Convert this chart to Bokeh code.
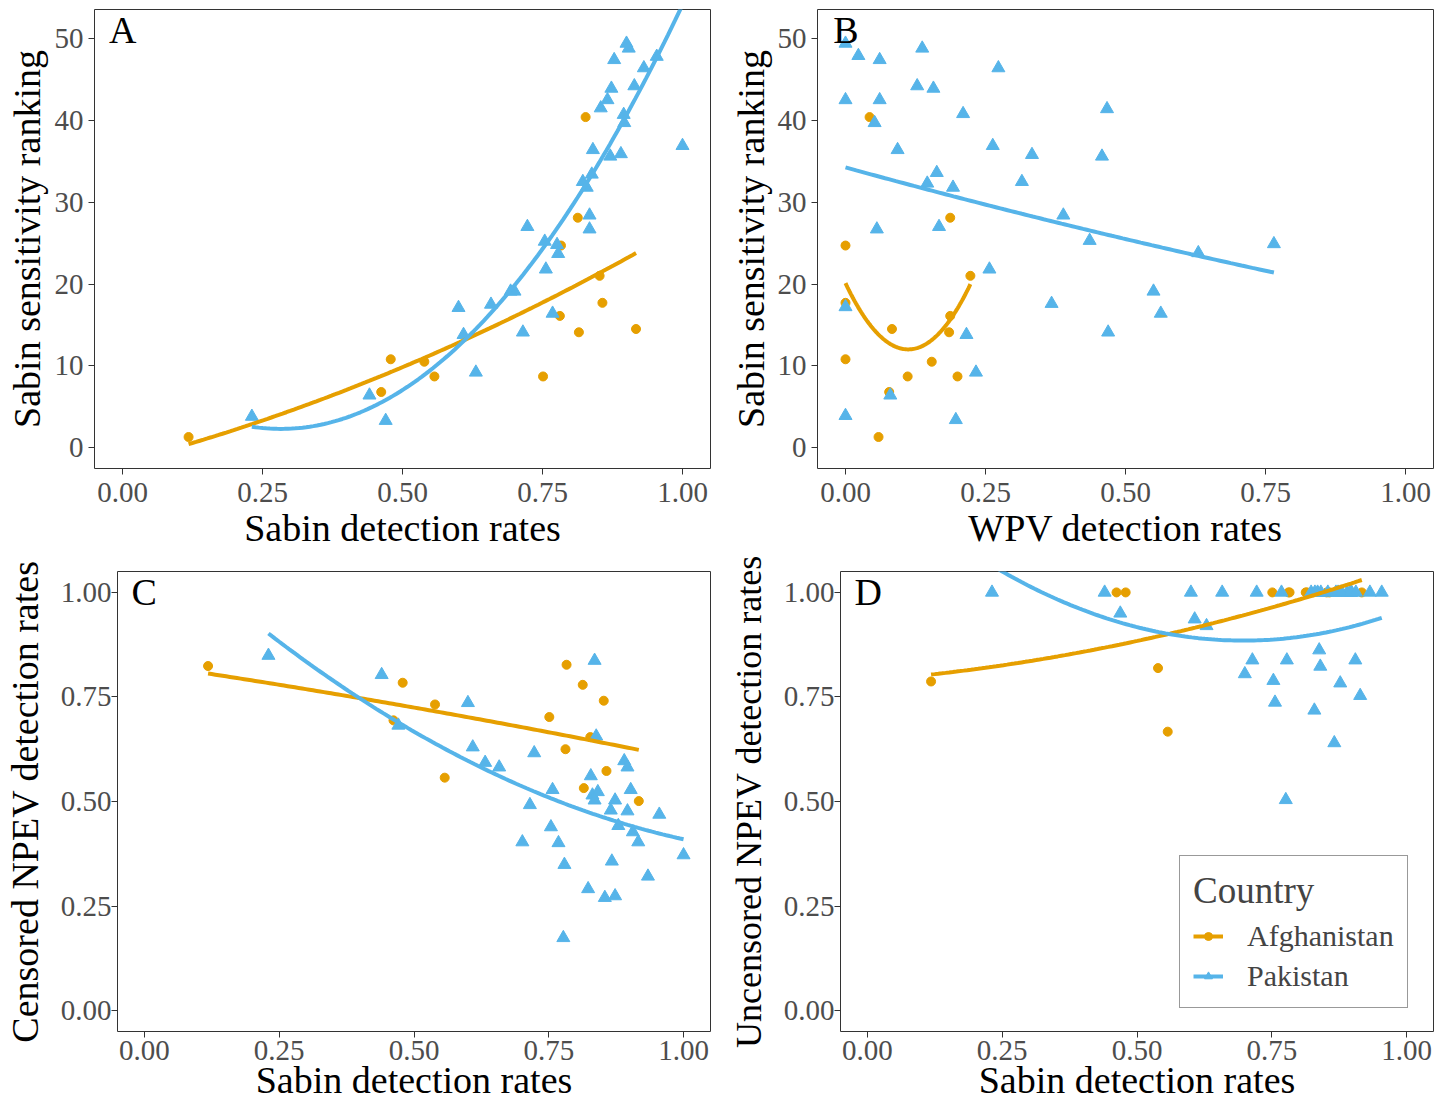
import numpy as np
from bokeh.plotting import figure
from bokeh.models import Range1d, FixedTicker, NumeralTickFormatter, Label, Legend, LegendItem
from bokeh.layouts import column, row
from bokeh.embed import file_html
from bokeh.resources import INLINE

ORANGE = "#E69F00"
BLUE = "#56B4E9"
FONT = "Liberation Serif"

# ---------------- data ----------------
# Afghanistan sites (shared across panels)
afg_sabin = [0.118, 0.479, 0.462, 0.539, 0.557, 0.827, 0.813, 0.783, 0.852, 0.857, 0.781, 0.815, 0.917, 0.751]
afg_rank = [1.3, 10.8, 6.8, 10.5, 8.7, 40.4, 28.1, 24.7, 21.0, 17.7, 16.1, 14.1, 14.5, 8.7]
afg_wpv = [0.059, 0.0, 0.078, 0.154, 0.111, 0.043, 0.187, 0.0, 0.223, 0.0, 0.187, 0.185, 0.083, 0.200]
afg_censored = [0.824, 0.784, 0.694, 0.732, 0.557, 0.654, 0.779, 0.827, 0.741, 0.573, 0.625, 0.532, 0.501, 0.702]
afg_uncensored = [0.787, 1.0, 1.0, 0.819, 0.667, 1.0, 1.0, 1.0, 1.0, 1.0, 1.0, 1.0, 1.0, 1.0]

# Pakistan, panel A: Sabin detection rate vs Sabin sensitivity ranking
pak_a_sabin = [0.231, 0.441, 0.470, 0.600, 0.609, 0.631, 0.658, 0.693, 0.700, 0.723, 0.754, 0.756,
               0.715, 0.768, 0.776, 0.778, 0.822, 0.829, 0.838, 0.834, 0.834, 0.840, 0.854, 0.866,
               0.873, 0.878, 0.871, 0.890, 0.896, 0.895, 0.900, 0.904, 0.914, 0.931, 0.954, 1.000]
pak_a_rank = [3.8, 6.4, 3.3, 17.1, 13.8, 9.2, 17.5, 19.1, 19.1, 27.0, 25.2, 21.8,
              14.1, 16.4, 24.8, 23.7, 32.5, 31.8, 33.4, 28.4, 26.7, 36.4, 41.5, 42.5,
              43.9, 47.4, 35.6, 35.9, 39.7, 40.7, 49.4, 48.8, 44.2, 46.4, 47.8, 36.9]

# Pakistan, panel B: WPV detection rate vs Sabin sensitivity ranking
pak_b_wpv = [0.000, 0.023, 0.061, 0.137, 0.273, 0.128, 0.157, 0.000, 0.061, 0.210, 0.467, 0.052,
             0.093, 0.263, 0.333, 0.458, 0.163, 0.146, 0.192, 0.315, 0.389, 0.056, 0.167, 0.436,
             0.765, 0.630, 0.257, 0.550, 0.000, 0.368, 0.563, 0.469, 0.216, 0.233, 0.080, 0.000, 0.197]
pak_b_rank = [49.4, 47.9, 47.4, 48.8, 46.4, 44.2, 43.9, 42.5, 42.5, 40.8, 41.4, 39.7,
              36.4, 36.9, 35.8, 35.6, 33.6, 32.3, 31.8, 32.5, 28.4, 26.7, 27.0, 25.3,
              24.9, 23.8, 21.8, 19.1, 17.2, 17.6, 16.4, 14.1, 13.8, 9.2, 6.4, 3.9, 3.4]

# Pakistan, panel C: Sabin detection rate vs censored NPEV detection rate
pak_c_sabin = [0.230, 0.440, 0.600, 0.471, 0.609, 0.632, 0.658, 0.723, 0.835, 0.838, 0.890, 0.896,
               0.828, 0.757, 0.902, 0.831, 0.841, 0.835, 0.873, 0.715, 0.865, 0.896, 0.955, 0.754,
               0.879, 0.906, 0.701, 0.768, 0.916, 1.000, 0.779, 0.867, 0.934, 0.823, 0.854, 0.873, 0.777]
pak_c_npev = [0.849, 0.803, 0.736, 0.682, 0.630, 0.593, 0.582, 0.616, 0.837, 0.656, 0.597, 0.582,
              0.561, 0.528, 0.528, 0.515, 0.523, 0.503, 0.503, 0.492, 0.479, 0.477, 0.469, 0.439,
              0.442, 0.427, 0.403, 0.401, 0.403, 0.372, 0.349, 0.357, 0.321, 0.291, 0.270, 0.274, 0.174]

# Pakistan, panel D: Sabin detection rate vs uncensored NPEV detection rate
pak_d_sabin = [0.231, 0.440, 0.469, 0.600, 0.607, 0.629, 0.658, 0.722, 0.768, 0.823, 0.830, 0.854,
               0.869, 0.890, 0.898, 0.932, 0.954, 0.700, 0.714, 0.778, 0.838, 0.840, 0.905, 0.753,
               0.877, 0.756, 0.914, 0.829, 0.866, 0.776,
               0.835, 0.841, 0.873, 0.879, 0.896, 0.906]
pak_d_npev = [1.0, 1.0, 0.950, 1.0, 0.936, 0.920, 1.0, 1.0, 1.0, 1.0, 1.0, 1.0,
              1.0, 1.0, 1.0, 1.0, 1.0, 0.805, 0.838, 0.838, 0.862, 0.823, 0.838, 0.789,
              0.783, 0.737, 0.753, 0.718, 0.640, 0.504,
              1.0, 1.0, 1.0, 1.0, 1.0, 1.0]

rate_ticks = [0.0, 0.25, 0.5, 0.75, 1.0]
rank_ticks = [0, 10, 20, 30, 40, 50]


def quad_fit(x, y, n=120):
    x = np.asarray(x, float)
    y = np.asarray(y, float)
    c = np.polyfit(x, y, 2)
    xs = np.linspace(x.min(), x.max(), n)
    return xs, np.polyval(c, xs)


def make_fig(width, height, yr, mbl, mbr, mbt, mbb, yticks, yfmt, xlabel, ylabel,
             ylab_standoff, ytick_standoff, xtick_standoff, xlab_standoff, ylab_size="38px"):
    p = figure(width=width, height=height, x_range=Range1d(-0.05, 1.05), y_range=Range1d(*yr),
               output_backend="svg", toolbar_location=None,
               min_border_left=mbl, min_border_right=mbr, min_border_top=mbt, min_border_bottom=mbb)
    p.xgrid.visible = False
    p.ygrid.visible = False
    p.outline_line_color = "#333333"
    p.outline_line_width = 1
    p.background_fill_color = "white"
    p.border_fill_color = "white"
    p.xaxis.ticker = FixedTicker(ticks=rate_ticks)
    p.xaxis.formatter = NumeralTickFormatter(format="0.00")
    p.yaxis.ticker = FixedTicker(ticks=yticks)
    p.yaxis.formatter = NumeralTickFormatter(format=yfmt)
    for ax in (p.xaxis[0], p.yaxis[0]):
        ax.axis_line_color = None
        ax.major_tick_line_color = "#333333"
        ax.major_tick_line_width = 1
        ax.major_tick_out = 6
        ax.major_tick_in = 0
        ax.minor_tick_line_color = None
        ax.major_label_text_font = FONT
        ax.major_label_text_font_size = "29px"
        ax.major_label_text_color = "#4D4D4D"
        ax.axis_label_text_font = FONT
        ax.axis_label_text_font_size = "38px"
        ax.axis_label_text_font_style = "normal"
        ax.axis_label_text_color = "black"
    p.xaxis.major_label_standoff = xtick_standoff
    p.xaxis.axis_label_standoff = xlab_standoff
    p.xaxis.axis_label = xlabel
    p.yaxis.major_label_standoff = ytick_standoff
    p.yaxis.axis_label_standoff = ylab_standoff
    p.yaxis.axis_label = ylabel
    p.yaxis.axis_label_text_font_size = ylab_size
    return p


def letter(p, txt, x, y):
    p.add_layout(Label(x=x, y=y, text=txt, text_font=FONT, text_font_size="38px",
                       text_color="black", text_align="left", text_baseline="alphabetic"))


def draw(p, ax, ay, px, py):
    r1 = p.scatter(ax, ay, marker="circle", size=9, color=ORANGE)
    r2 = p.scatter(px, py, marker="triangle", size=13, color=BLUE)
    fx, fy = quad_fit(ax, ay)
    l1 = p.line(fx, fy, line_color=ORANGE, line_width=4)
    gx, gy = quad_fit(px, py)
    l2 = p.line(gx, gy, line_color=BLUE, line_width=4)
    return r1, r2, l1, l2


RANK_RANGE = (-2.55, 53.55)
RATE_RANGE = (-0.05, 1.05)

W_LEFT, W_RIGHT = 725, 722
H_TOP, H_BOT = 551, 553

# Panel A
pA = make_fig(W_LEFT, H_TOP, RANK_RANGE, 94, 15, 9, 83, rank_ticks, "0",
              "Sabin detection rates", "Sabin sensitivity ranking", 4, 5, 8, 2)
draw(pA, afg_sabin, afg_rank, pak_a_sabin, pak_a_rank)
letter(pA, "A", -0.024, 51.0)

# Panel B
pB = make_fig(W_RIGHT, H_TOP, RANK_RANGE, 92, 14, 9, 83, rank_ticks, "0",
              "WPV detection rates", "Sabin sensitivity ranking", 3, 5, 8, 2)
draw(pB, afg_wpv, afg_rank, pak_b_wpv, pak_b_rank)
letter(pB, "B", -0.022, 51.0)

# Panel C
pC = make_fig(W_LEFT, H_BOT, RATE_RANGE, 117, 15, 20, 73, rate_ticks, "0.00",
              "Sabin detection rates", "Censored NPEV detection rates", 12, 0, 3, -4)
draw(pC, afg_sabin, afg_censored, pak_c_sabin, pak_c_npev)
letter(pC, "C", -0.024, 1.002)

# Panel D
pD = make_fig(W_RIGHT, H_BOT, RATE_RANGE, 113, 14, 20, 73, rate_ticks, "0.00",
              "Sabin detection rates", "Uncensored NPEV detection rates", 12, 0, 3, -4,
              ylab_size="36px")
rD1, rD2, lD1, lD2 = draw(pD, afg_sabin, afg_uncensored, pak_d_sabin, pak_d_npev)
letter(pD, "D", -0.024, 1.002)

legend = Legend(items=[LegendItem(label="Afghanistan", renderers=[lD1, rD1]),
                       LegendItem(label="Pakistan", renderers=[lD2, rD2])],
                location=(339, 23), title="Country")
legend.title_text_font = FONT
legend.title_text_font_size = "37px"
legend.title_text_font_style = "normal"
legend.title_standoff = 6
legend.label_text_font = FONT
legend.label_text_font_size = "30px"
legend.label_height = 36
legend.glyph_width = 30
legend.glyph_height = 20
legend.label_standoff = 24
legend.padding = 13
legend.spacing = 4
legend.margin = 0
legend.border_line_color = "#333333"
legend.border_line_width = 1
legend.background_fill_alpha = 1
pD.add_layout(legend)

layout = column(row(pA, pB), row(pC, pD))

with open("out.html", "w") as f:
    f.write(file_html(layout, INLINE))
